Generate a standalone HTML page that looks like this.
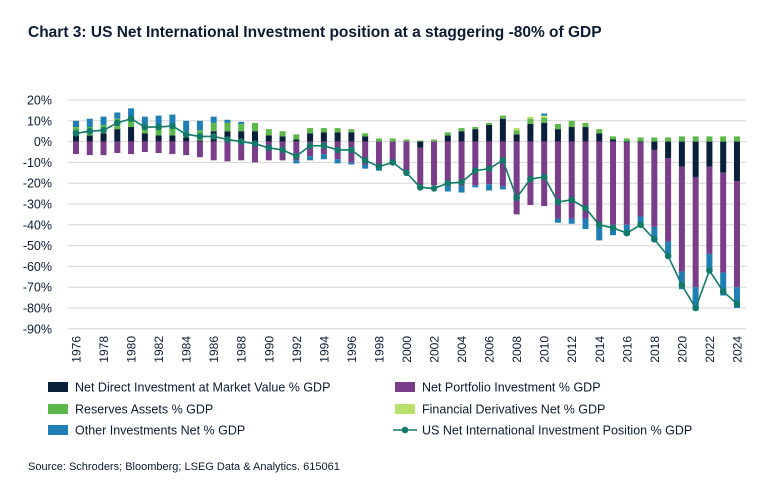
<!DOCTYPE html><html><head><meta charset="utf-8"><style>
body{margin:0;background:#fff;font-family:"Liberation Sans",sans-serif;}
</style></head><body>
<svg id="c" width="770" height="496" xmlns="http://www.w3.org/2000/svg" font-family="Liberation Sans, sans-serif">
<text x="28" y="37" font-size="15.5" font-weight="bold" fill="#0b1b33">Chart 3: US Net International Investment position at a staggering -80% of GDP</text>
<text x="28" y="470" font-size="11" fill="#0b1b33">Source: Schroders; Bloomberg; LSEG Data &amp; Analytics. 615061</text>
</svg>
<script>
const s=document.getElementById('c'),NS='http://www.w3.org/2000/svg';
function el(t,a,txt){const e=document.createElementNS(NS,t);for(const k in a)e.setAttribute(k,a[k]);if(txt!==undefined)e.textContent=txt;s.appendChild(e);return e;}
const D='#0a1f3a',P='#7a3d8a',G='#5cb84a',L='#b8e06a',B='#1f7fb5',LN='#137a6a';
const y0=141.6,k=2.08,x0=76,dx=13.77;
const Y=v=>y0-v*k;
for(let v=20;v>=-90;v-=10){el('line',{x1:68,x2:746,y1:Y(v),y2:Y(v),stroke:'#d6d6d6','stroke-width':1});
el('text',{x:52,y:Y(v)+4.5,'font-size':12.5,'text-anchor':'end',fill:'#0b1b33'},v+'%');}
// [pos segments],[neg segments],N
const d=[
[[[D,3],[G,4],[B,3]],[[P,6]],4],
[[[D,3],[G,4],[B,4]],[[P,6.5]],5],
[[[D,4],[G,4],[B,4]],[[P,6.5]],5.5],
[[[D,6],[G,5],[B,3]],[[P,5.5]],9],
[[[D,7],[G,5],[B,4]],[[P,6]],11],
[[[D,4],[G,3],[B,5]],[[P,5]],7],
[[[D,3],[G,4],[B,5.5]],[[P,5.5]],7],
[[[D,3],[G,4],[B,6]],[[P,6]],7.5],
[[[D,2],[G,3],[B,5]],[[P,6.5]],3.5],
[[[D,0.5],[G,5],[B,4.5]],[[P,7.5]],2.5],
[[[D,5],[G,4],[B,3]],[[P,9]],2.5],
[[[D,5],[G,4],[B,1.5]],[[P,9.5]],1],
[[[D,5],[G,3.5],[B,1]],[[P,9]],0],
[[[D,5],[G,4]],[[P,10]],-1],
[[[D,3],[G,3]],[[P,9]],-3],
[[[D,2.5],[G,2.5]],[[P,9]],-4],
[[[D,1],[G,2.5]],[[P,9],[B,1.5]],-7],
[[[D,4],[G,2.5]],[[P,7],[B,2]],-2],
[[[D,4.5],[G,2]],[[P,6],[B,2.5]],-2],
[[[D,4.5],[G,2]],[[P,8.5],[B,2]],-4],
[[[D,4.5],[G,1.5]],[[P,10],[B,1]],-4],
[[[D,2.5],[G,1.5]],[[P,11],[B,2]],-9],
[[[G,1.5]],[[P,12],[B,2]],-12],
[[[G,1.5]],[[P,11]],-10],
[[[G,1]],[[P,14]],-15],
[[[G,0.5]],[[D,3],[P,18]],-22],
[[[G,1]],[[P,21]],-22.5],
[[[D,3],[G,1.5]],[[P,21.5],[B,2.5]],-20],
[[[D,5],[G,1.5]],[[P,21.5],[B,3]],-19.5],
[[[D,6],[G,1]],[[P,21],[B,1]],-14],
[[[D,8],[G,1]],[[P,20.5],[B,3]],-13],
[[[D,11],[G,1.5]],[[P,21.5],[B,1.5]],-9],
[[[D,3.5],[G,2],[L,1]],[[P,35]],-27],
[[[D,8.5],[G,2.5],[L,1]],[[P,30.5]],-18],
[[[D,9],[G,2.5],[L,1],[B,1]],[[P,31]],-17],
[[[D,6],[G,2.5]],[[P,37],[B,2]],-29],
[[[D,7],[G,3]],[[P,37],[B,2.5]],-28],
[[[D,7],[G,2]],[[P,37],[B,5]],-32],
[[[D,4],[G,2]],[[P,40],[B,7.5]],-40],
[[[D,1],[G,1.5]],[[P,40],[B,5]],-41.5],
[[[G,1.5]],[[D,0.5],[P,39.5],[B,5]],-44],
[[[G,2]],[[D,0.5],[P,35.5],[B,5]],-40],
[[[G,2]],[[D,4],[P,37],[B,7]],-47],
[[[G,2]],[[D,8],[P,40],[B,8]],-55],
[[[G,2.5]],[[D,12],[P,50.5],[B,8.5]],-69],
[[[G,2.5]],[[D,17],[P,53],[B,11]],-80],
[[[G,2.5]],[[D,12],[P,42],[B,8]],-62],
[[[G,2.5]],[[D,15],[P,48],[B,11]],-72],
[[[G,2.5]],[[D,19],[P,51],[B,10]],-78]];
const pts=[];
d.forEach((r,i)=>{const x=x0+i*dx;let c=0;
r[0].forEach(([col,h])=>{el('rect',{x:x-3,y:Y(c+h),width:6,height:h*k,fill:col});c+=h;});
c=0;r[1].forEach(([col,h])=>{el('rect',{x:x-3,y:Y(c),width:6,height:h*k,fill:col});c-=h;});
pts.push(x+','+Y(r[2]));
if(i%2==0){const t=el('text',{x:0,y:0,'font-size':12,'text-anchor':'end',fill:'#0b1b33',transform:`translate(${x+4.5},${336}) rotate(-90)`},String(1976+i));}
});
el('polyline',{points:pts.join(' '),fill:'none',stroke:LN,'stroke-width':1.6});
pts.forEach(p=>{const [x,y]=p.split(',');el('circle',{cx:x,cy:y,r:3.3,fill:LN});});
const lg=[[48,387,D,'Net Direct Investment at Market Value % GDP'],[48,409,G,'Reserves Assets % GDP'],[48,430,B,'Other Investments Net % GDP'],
[395,387,P,'Net Portfolio Investment % GDP'],[395,409,L,'Financial Derivatives Net % GDP']];
lg.forEach(([x,y,c,t])=>{el('rect',{x:x,y:y-5,width:20,height:10,fill:c});el('text',{x:x+27,y:y+4.5,'font-size':12.5,fill:'#0b1b33'},t);});
el('line',{x1:393,x2:417,y1:430,y2:430,stroke:LN,'stroke-width':1.6});el('circle',{cx:405,cy:430,r:3.3,fill:LN});
el('text',{x:422,y:434.5,'font-size':12.5,fill:'#0b1b33'},'US Net International Investment Position % GDP');
</script>
</body></html>
